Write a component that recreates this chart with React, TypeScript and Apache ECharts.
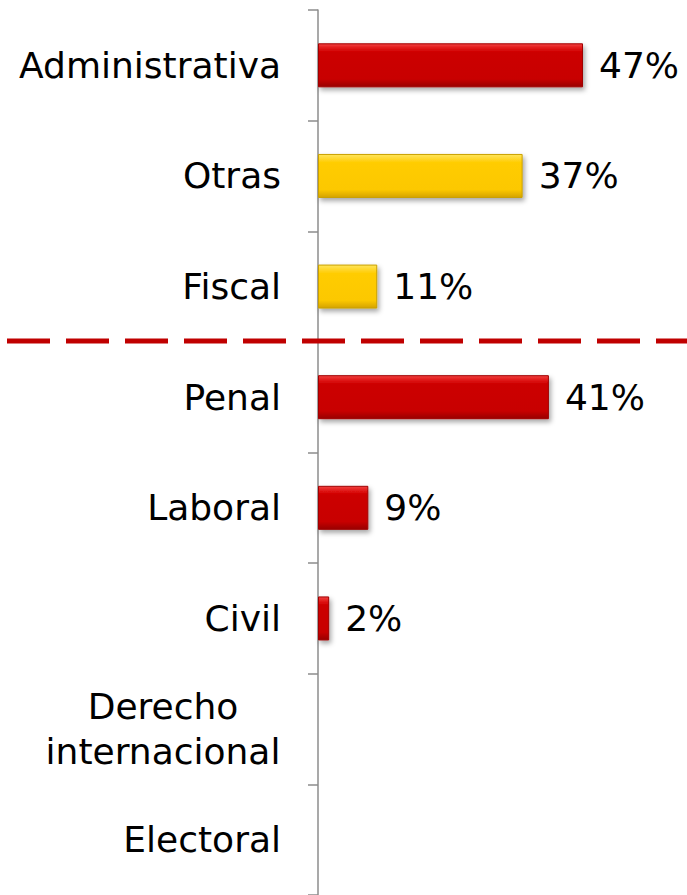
import React, { useEffect, useRef } from "react";
import * as echarts from "echarts";

const categories = [
  "Administrativa",
  "Otras",
  "Fiscal",
  "Penal",
  "Laboral",
  "Civil",
  "Derecho\ninternacional",
  "Electoral",
];
const values = [47.4, 36.6, 10.6, 41.3, 9.0, 2.0, 0, 0];
const highlighted = ["Otras", "Fiscal"];
const axisMax = 66;

const FONT = "'DejaVu Sans', Verdana, sans-serif";

const redFill = new echarts.graphic.LinearGradient(0, 0, 0, 1, [
  { offset: 0, color: "#F2403F" },
  { offset: 0.14, color: "#D90A0A" },
  { offset: 0.2, color: "#CC0000" },
  { offset: 0.82, color: "#C80000" },
  { offset: 1, color: "#980000" },
]);
const yellowFill = new echarts.graphic.LinearGradient(0, 0, 0, 1, [
  { offset: 0, color: "#FFE55C" },
  { offset: 0.14, color: "#FFD21A" },
  { offset: 0.2, color: "#FFCC00" },
  { offset: 0.82, color: "#FCC800" },
  { offset: 1, color: "#D4A300" },
]);

export default function App() {
  const ref = useRef<HTMLDivElement>(null);

  useEffect(() => {
    if (!ref.current) return;
    const chart = echarts.init(ref.current, undefined, { renderer: "svg" });
    const data = values.map((v, i) => {
      const hl = highlighted.includes(categories[i]);
      return {
        value: v,
        itemStyle: {
          color: hl ? yellowFill : redFill,
          borderColor: hl ? "#C9A000" : "#A00000",
          borderWidth: 1,
          shadowColor: "rgba(0,0,0,0.35)",
          shadowBlur: 5,
          shadowOffsetX: 2,
          shadowOffsetY: 3,
        },
      };
    });
    const axisData = categories.map((c) =>
      c.includes("\n")
        ? { value: c, textStyle: { align: "center", padding: [0, 236, 0, 0] } }
        : c
    );
    chart.setOption({
      animation: false,
      backgroundColor: "#ffffff",
      grid: { left: 318, top: 10, width: 369, height: 887, containLabel: false },
      xAxis: {
        type: "value",
        min: 0,
        max: axisMax,
        show: false,
        splitLine: { show: false },
      },
      yAxis: {
        type: "category",
        inverse: true,
        data: axisData,
        axisLine: { show: true, lineStyle: { color: "#8C8C8C", width: 1.5 } },
        axisTick: {
          show: true,
          interval: 0,
          length: 10,
          lineStyle: { color: "#8C8C8C", width: 1.5 },
        },
        axisLabel: {
          interval: 0,
          margin: 37,
          fontSize: 36,
          fontFamily: FONT,
          color: "#000000",
          lineHeight: 45,
          align: "right",
        },
      },
      series: [
        {
          type: "bar",
          data,
          barWidth: 44,
          label: {
            show: true,
            position: "right",
            distance: 16,
            fontSize: 36,
            fontFamily: FONT,
            color: "#000000",
            formatter: (p: any) =>
              p.value > 0 ? Math.round(p.value) + "%" : "",
          },
        },
      ],
      graphic: [
        {
          type: "line",
          z: 10,
          shape: { x1: 7, y1: 341, x2: 687, y2: 341 },
          style: { stroke: "#C00000", lineWidth: 5, lineDash: [43, 16] },
        },
      ],
    });
    return () => chart.dispose();
  }, []);

  return (
    <div
      ref={ref}
      style={{ position: "fixed", left: 0, top: 0, width: 687, height: 895 }}
    />
  );
}
